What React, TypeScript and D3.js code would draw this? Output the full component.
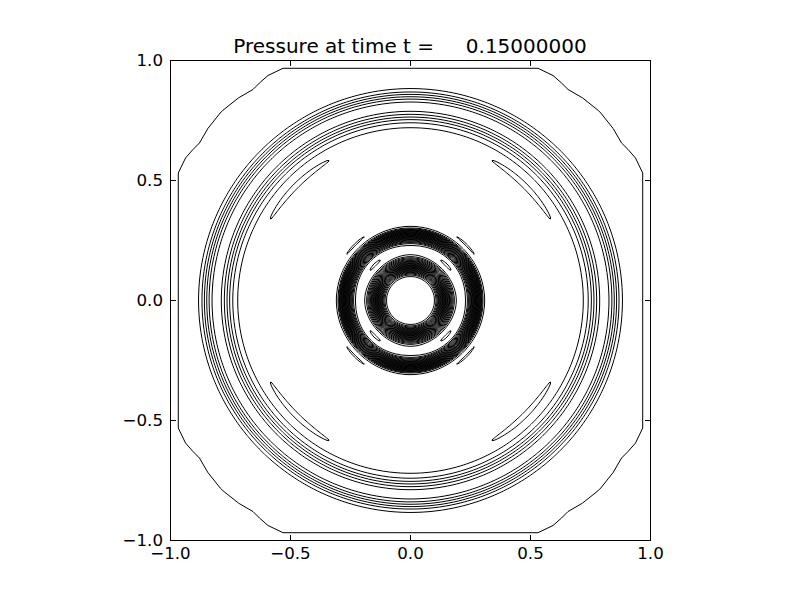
import React, { useMemo } from "react";
import * as d3 from "d3";

// ---- text / axes ----
const TITLE = "Pressure at time t =     0.15000000";
const X_TICKS = [-1.0, -0.5, 0.0, 0.5, 1.0];
const Y_TICKS = [-1.0, -0.5, 0.0, 0.5, 1.0];
const DOMAIN = [-1, 1];

// ---- radial pressure profile (r -> p) ----
const PROFILE_R = [
  0, 0.085, 0.095, 0.1, 0.11, 0.13, 0.15, 0.17, 0.19, 0.21, 0.23, 0.25, 0.27,
  0.29, 0.3, 0.308, 0.314, 0.32, 0.328, 0.338, 0.35, 0.64, 0.655, 0.675, 0.695,
  0.72, 0.745, 0.77, 0.79, 0.807, 0.825, 0.85, 0.87, 0.883, 0.9, 2,
];
const PROFILE_P = [
  0, 0, 0.008, 0.025, 0.12, 0.45, 0.85, 1.18, 1.385, 1.415, 1.385, 1.15, 0.75,
  0.3, 0.1, 0.025, 0.004, -0.008, -0.016, -0.008, 0, 0, 0, -0.012, 0,
  0.025, 0.09, 0.2, 0.28, 0.3, 0.28, 0.17, 0.07, 0.025, 0, 0,
];

// ---- diagonal (cos 4θ) modulation amplitude ----
const MOD_R = [0, 0.16, 0.19, 0.21, 0.23, 0.26, 0.3, 0.328, 0.355, 0.64, 0.675, 0.705, 2];
const MOD_A = [0, 0, 0.012, 0.012, 0.012, 0, 0, -0.0115, 0, 0, -0.026, 0, 0];

// ---- contour levels ----
const LEVELS = [
  -0.025, 0.025, 0.075, 0.125, 0.175, 0.225, 0.275, 0.325, 0.375, 0.425,
  0.475, 0.525, 0.575, 0.625, 0.675, 0.725, 0.775, 0.825, 0.875, 0.925,
  0.975, 1.025, 1.075, 1.125, 1.175, 1.225, 1.275, 1.325, 1.375, 1.425,
];
const BOUNDARY_LEVELS = [-0.025];
// coarse outer grid: edge onset, slope, floor, corner factor
const EDGE_START = [0.956];
const EDGE_SLOPE = [2.0];
const EDGE_FLOOR = [-0.05];
const CORNER_FACTOR = [0.874];

const FINE_N = 480;
const COARSE_N = 32;

function monotone(xs: number[], ys: number[]) {
  const n = xs.length;
  const h: number[] = [];
  const s: number[] = [];
  for (let i = 0; i < n - 1; i++) {
    h[i] = xs[i + 1] - xs[i];
    s[i] = (ys[i + 1] - ys[i]) / h[i];
  }
  const t = new Array(n).fill(0);
  for (let i = 1; i < n - 1; i++) {
    const s0 = s[i - 1], s1 = s[i];
    if (s0 * s1 <= 0) t[i] = 0;
    else {
      const p = (s0 * h[i] + s1 * h[i - 1]) / (h[i - 1] + h[i]);
      t[i] = (Math.sign(s0) + Math.sign(s1)) * Math.min(Math.abs(s0), Math.abs(s1), 0.5 * Math.abs(p));
    }
  }
  return (x: number) => {
    if (x <= xs[0]) return ys[0];
    if (x >= xs[n - 1]) return ys[n - 1];
    const i = Math.min(n - 2, d3.bisectRight(xs, x) - 1);
    const u = (x - xs[i]) / h[i];
    const u2 = u * u, u3 = u2 * u;
    return (
      (2 * u3 - 3 * u2 + 1) * ys[i] +
      (u3 - 2 * u2 + u) * h[i] * t[i] +
      (-2 * u3 + 3 * u2) * ys[i + 1] +
      (u3 - u2) * h[i] * t[i + 1]
    );
  };
}

const W = 800, H = 600;

export default function App() {
  const xScale = d3.scaleLinear().domain(DOMAIN).range([170.5, 650.5]);
  const yScale = d3.scaleLinear().domain(DOMAIN).range([540.5, 60.5]);

  const { finePaths, coarsePaths } = useMemo(() => {
    const P = monotone(PROFILE_R, PROFILE_P);
    const M = monotone(MOD_R, MOD_A);

    const makePath = (n: number) => {
      const step = 2 / n;
      return d3.geoPath(
        d3.geoTransform({
          point(x: number, y: number) {
            (this as any).stream.point(xScale(-1 + x * step), yScale(1 - y * step));
          },
        })
      );
    };

    // fine field
    const hf = 2 / FINE_N;
    const vals: number[] = new Array(FINE_N * FINE_N);
    for (let j = 0; j < FINE_N; j++) {
      const y = 1 - (j + 0.5) * hf;
      for (let i = 0; i < FINE_N; i++) {
        const x = -1 + (i + 0.5) * hf;
        const r = Math.hypot(x, y);
        const th = Math.atan2(y, x);
        vals[j * FINE_N + i] = P(r) + M(r) * -Math.cos(4 * th);
      }
    }
    const fine = d3.contours().size([FINE_N, FINE_N]).thresholds(LEVELS)(vals);
    const pf = makePath(FINE_N);
    const finePaths = fine.map((c) => pf(c as any) || "");

    // coarse outer field
    const hc = 2 / COARSE_N;
    const cv: number[] = new Array(COARSE_N * COARSE_N);
    for (let j = 0; j < COARSE_N; j++) {
      const y = 1 - (j + 0.5) * hc;
      for (let i = 0; i < COARSE_N; i++) {
        const x = -1 + (i + 0.5) * hc;
        const rho = Math.max(Math.abs(x), Math.abs(y), CORNER_FACTOR[0] * Math.hypot(x, y));
        cv[j * COARSE_N + i] = Math.max(EDGE_FLOOR[0], -EDGE_SLOPE[0] * Math.max(0, rho - EDGE_START[0]));
      }
    }
    const coarse = d3.contours().size([COARSE_N, COARSE_N]).thresholds(BOUNDARY_LEVELS)(cv);
    const pc = makePath(COARSE_N);
    const coarsePaths = coarse.map((c) => pc(c as any) || "");
    return { finePaths, coarsePaths };
  }, []);

  const fmt = (v: number) => (v < 0 ? "\u2212" : "") + Math.abs(v).toFixed(1);
  const font = "DejaVu Sans, sans-serif";
  const tickLen = 5.5;

  return (
    <svg
      width={W}
      height={H}
      style={{ position: "absolute", left: 0, top: 0, background: "#fff" }}
      fontFamily={font}
    >
      <rect x={0} y={0} width={W} height={H} fill="#fff" />
      <defs>
        <clipPath id="plotclip">
          <rect x={170.5} y={60.5} width={480} height={480} />
        </clipPath>
      </defs>
      <g clipPath="url(#plotclip)" fill="none" stroke="#000" strokeWidth={1}>
        {finePaths.map((d, i) => (
          <path key={"f" + i} d={d} />
        ))}
        {coarsePaths.map((d, i) => (
          <path key={"c" + i} d={d} />
        ))}
      </g>
      <rect x={170.5} y={60.5} width={480} height={480} fill="none" stroke="#000" strokeWidth={1} />
      {X_TICKS.map((t) => (
        <g key={"x" + t}>
          <line x1={xScale(t)} x2={xScale(t)} y1={540.5} y2={540.5 - tickLen} stroke="#000" />
          <line x1={xScale(t)} x2={xScale(t)} y1={60.5} y2={60.5 + tickLen} stroke="#000" />
          <text x={xScale(t)} y={559} fontSize={16.67} textAnchor="middle" fill="#000">
            {fmt(t)}
          </text>
        </g>
      ))}
      {Y_TICKS.map((t) => (
        <g key={"y" + t}>
          <line x1={170.5} x2={170.5 + tickLen} y1={yScale(t)} y2={yScale(t)} stroke="#000" />
          <line x1={650.5} x2={650.5 - tickLen} y1={yScale(t)} y2={yScale(t)} stroke="#000" />
          <text x={163} y={yScale(t)} dy="0.35em" fontSize={16.67} textAnchor="end" fill="#000">
            {fmt(t)}
          </text>
        </g>
      ))}
      <text x={410} y={53} fontSize={20} textAnchor="middle" fill="#000" style={{ whiteSpace: "pre" }}>
        {TITLE}
      </text>
    </svg>
  );
}
